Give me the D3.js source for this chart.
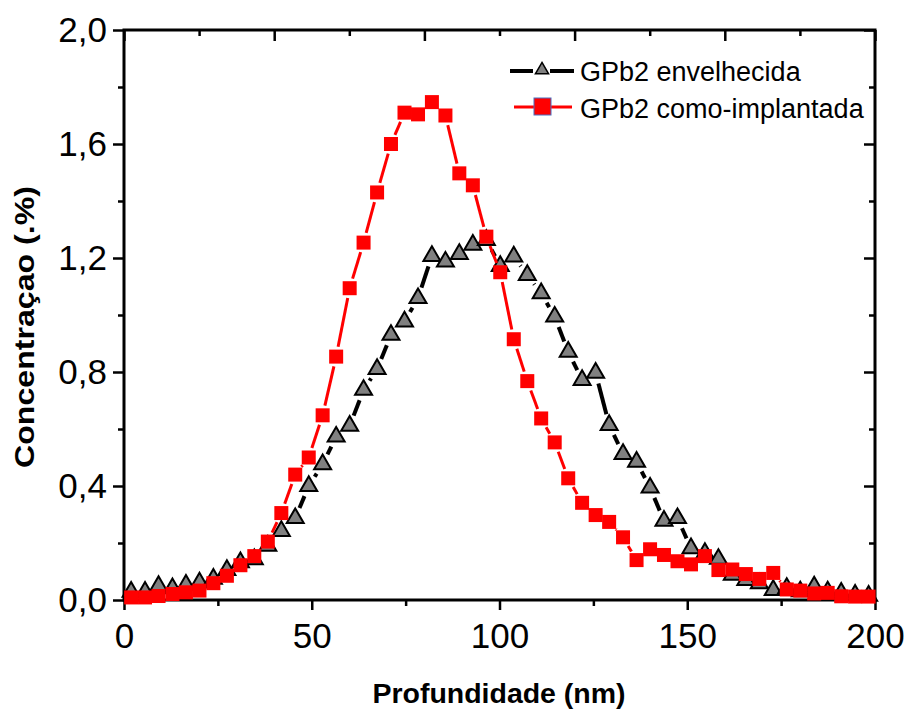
<!DOCTYPE html>
<html>
<head>
<meta charset="utf-8">
<script src="https://cdn.jsdelivr.net/npm/d3@7"></script>
<style>
  body { margin: 0; background: #fff; }
  svg text { font-family: "Liberation Sans", Arial, sans-serif; }
</style>
</head>
<body>
<div id="chart"></div>
<script>
// depth (nm)
var depth = [1.9, 5.6, 9.2, 12.9, 16.5, 20.1, 23.8, 27.4, 31.0, 34.7, 38.3, 41.9, 45.6, 49.2, 52.9,
  56.5, 60.1, 63.8, 67.4, 71.1, 74.7, 78.3, 82.0, 85.6, 89.3, 92.9, 96.5, 100.2, 103.8, 107.4,
  111.1, 114.7, 118.3, 122.0, 125.6, 129.2, 132.9, 136.5, 140.1, 143.8, 147.4, 151.0, 154.7, 158.3,
  162.0, 165.6, 169.2, 172.9, 176.5, 180.1, 183.8, 187.4, 191.0, 194.7, 198.3];

// GPb2 envelhecida
var envelhecida = [0.029, 0.029, 0.049, 0.041, 0.053, 0.061, 0.074, 0.105, 0.132, 0.143, 0.19, 0.242,
  0.287, 0.40, 0.476, 0.573, 0.611, 0.737, 0.81, 0.93, 0.977, 1.059, 1.207, 1.187, 1.214, 1.246,
  1.263, 1.172, 1.205, 1.14, 1.076, 0.994, 0.871, 0.772, 0.797, 0.614, 0.512, 0.485, 0.394, 0.278,
  0.287, 0.181, 0.165, 0.144, 0.088, 0.07, 0.058, 0.035, 0.042, 0.03, 0.047, 0.03, 0.025, 0.018, 0.015];

// GPb2 como-implantada
var implantada = [0.009, 0.009, 0.014, 0.021, 0.027, 0.033, 0.059, 0.085, 0.122, 0.154, 0.205, 0.305,
  0.44, 0.50, 0.648, 0.854, 1.094, 1.254, 1.43, 1.60, 1.71, 1.704, 1.747, 1.70, 1.497, 1.455,
  1.275, 1.15, 0.915, 0.768, 0.637, 0.553, 0.427, 0.341, 0.298, 0.274, 0.22, 0.14, 0.178, 0.158,
  0.136, 0.125, 0.154, 0.105, 0.107, 0.091, 0.074, 0.095, 0.037, 0.033, 0.023, 0.025, 0.013, 0.012, 0.012];

var xMajor = [0, 50, 100, 150, 200];
var xMinor = [25, 75, 125, 175];
var xTopMajor = [0, 40, 80, 120, 160, 200];
var xTopMinor = [20, 60, 100, 140, 180];
var yMajor = [0, 0.4, 0.8, 1.2, 1.6, 2.0];
var yMinor = [0.2, 0.6, 1.0, 1.4, 1.8];

var W = 906, H = 711;
var svg = d3.select("#chart").append("svg").attr("width", W).attr("height", H);

var x = d3.scaleLinear().domain([0, 200]).range([124, 875]);
var y = d3.scaleLinear().domain([0, 2]).range([600, 30]);

var fmt = function (d) { return d3.format(".1f")(d).replace(".", ","); };

function styleAxis(g, fontSize) {
  g.select(".domain").remove();
  g.selectAll(".tick line").attr("stroke", "#000").attr("stroke-width", 2.5);
  g.selectAll(".tick text").attr("fill", "#000").style("font-size", fontSize + "px")
    .style("font-family", "'Liberation Sans', Arial, sans-serif");
}

// bottom axis
svg.append("g").attr("transform", "translate(0,600)")
  .call(d3.axisBottom(x).tickValues(xMajor).tickSize(10).tickPadding(13).tickFormat(d3.format("d")))
  .call(styleAxis, 35);
svg.append("g").attr("transform", "translate(0,600)")
  .call(d3.axisBottom(x).tickValues(xMinor).tickSize(6).tickFormat(""))
  .call(styleAxis, 35);

// top axis (inward ticks)
svg.append("g").attr("transform", "translate(0,30)")
  .call(d3.axisTop(x).tickValues(xTopMajor).tickSize(-11).tickFormat(""))
  .call(styleAxis, 35);
svg.append("g").attr("transform", "translate(0,30)")
  .call(d3.axisTop(x).tickValues(xTopMinor).tickSize(-6).tickFormat(""))
  .call(styleAxis, 35);

// left axis
svg.append("g").attr("transform", "translate(124,0)")
  .call(d3.axisLeft(y).tickValues(yMajor).tickSize(11).tickPadding(6).tickFormat(fmt))
  .call(styleAxis, 35);
svg.append("g").attr("transform", "translate(124,0)")
  .call(d3.axisLeft(y).tickValues(yMinor).tickSize(6).tickFormat(""))
  .call(styleAxis, 35);

// right axis (inward ticks)
svg.append("g").attr("transform", "translate(875,0)")
  .call(d3.axisRight(y).tickValues(yMajor).tickSize(-11).tickFormat(""))
  .call(styleAxis, 35);
svg.append("g").attr("transform", "translate(875,0)")
  .call(d3.axisRight(y).tickValues(yMinor).tickSize(-6).tickFormat(""))
  .call(styleAxis, 35);

// frame
svg.append("rect")
  .attr("x", x(0)).attr("y", y(2))
  .attr("width", x(200) - x(0)).attr("height", y(0) - y(2))
  .attr("fill", "none").attr("stroke", "#000").attr("stroke-width", 3);

// line with a gap around each symbol (Origin style)
function drawSeries(vals, color, width, gap) {
  var pts = depth.map(function (d, i) { return [x(d), y(vals[i])]; });
  var segs = [];
  for (var i = 0; i < pts.length - 1; i++) {
    var a = pts[i], b = pts[i + 1];
    var dx = b[0] - a[0], dy = b[1] - a[1];
    var len = Math.sqrt(dx * dx + dy * dy);
    if (len <= 2 * gap) continue;
    var ux = dx / len, uy = dy / len;
    segs.push([a[0] + ux * gap, a[1] + uy * gap, b[0] - ux * gap, b[1] - uy * gap]);
  }
  svg.append("g").selectAll("line").data(segs).enter().append("line")
    .attr("x1", function (s) { return s[0]; }).attr("y1", function (s) { return s[1]; })
    .attr("x2", function (s) { return s[2]; }).attr("y2", function (s) { return s[3]; })
    .attr("stroke", color).attr("stroke-width", width);
}

drawSeries(envelhecida, "#000", 4, 11);
svg.append("g").selectAll("path").data(depth).enter().append("path")
  .attr("d", d3.symbol().type(d3.symbolTriangle).size(125))
  .attr("transform", function (d, i) { return "translate(" + x(d) + "," + y(envelhecida[i]) + ")"; })
  .attr("fill", "#808080").attr("stroke", "#000").attr("stroke-width", 2);

drawSeries(implantada, "#ff0000", 3, 10);
svg.append("g").selectAll("rect").data(depth).enter().append("rect")
  .attr("x", function (d) { return x(d) - 7; })
  .attr("y", function (d, i) { return y(implantada[i]) - 7; })
  .attr("width", 14).attr("height", 14)
  .attr("fill", "#ff0000");

// legend
var leg = svg.append("g");
leg.append("line").attr("x1", 510).attr("x2", 533).attr("y1", 71).attr("y2", 71).attr("stroke", "#000").attr("stroke-width", 4);
leg.append("line").attr("x1", 550).attr("x2", 574).attr("y1", 71).attr("y2", 71).attr("stroke", "#000").attr("stroke-width", 4);
leg.append("path").attr("d", d3.symbol().type(d3.symbolTriangle).size(75))
  .attr("transform", "translate(542,70)").attr("fill", "#808080").attr("stroke", "#000").attr("stroke-width", 1.5);
leg.append("text").attr("x", 580).attr("y", 81).style("font-size", "27px").text("GPb2 envelhecida");

leg.append("line").attr("x1", 514).attr("x2", 572).attr("y1", 107).attr("y2", 107).attr("stroke", "#ff0000").attr("stroke-width", 3);
leg.append("rect").attr("x", 534).attr("y", 98).attr("width", 17).attr("height", 17)
  .attr("fill", "#ff0000").attr("stroke", "#4a6fc0").attr("stroke-width", 1);
leg.append("text").attr("x", 580).attr("y", 118).style("font-size", "27px").text("GPb2 como-implantada");

// axis titles
svg.append("text").attr("x", 499).attr("y", 703).attr("text-anchor", "middle")
  .attr("textLength", 253).attr("lengthAdjust", "spacingAndGlyphs")
  .style("font-size", "27px").style("font-weight", "bold").text("Profundidade (nm)");
svg.append("text").attr("transform", "translate(34,327) rotate(-90)").attr("text-anchor", "middle")
  .attr("textLength", 282).attr("lengthAdjust", "spacingAndGlyphs")
  .style("font-size", "27px").style("font-weight", "bold").text("Concentraçao (.%)");
</script>
</body>
</html>
